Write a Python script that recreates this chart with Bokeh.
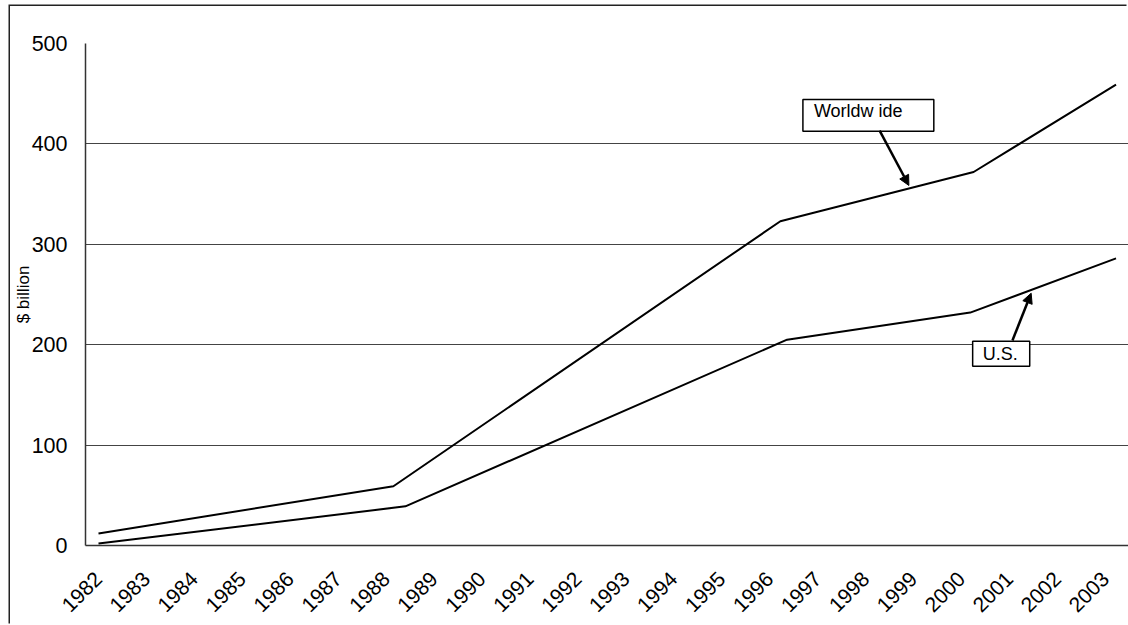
import math
from bokeh.plotting import figure
from bokeh.models import Range1d, FixedTicker, Arrow, NormalHead
from bokeh.core.properties import value
from bokeh.embed import file_html
from bokeh.resources import INLINE

# ---- data ----
years = [str(y) for y in range(1982, 2004)]
tick_vals = list(range(1982, 2004))

ww_x = [1982.0, 1988.15, 1996.22, 2000.25, 2003.22]
ww_y = [12, 59, 323, 372, 459]
us_x = [1982.0, 1988.40, 1996.36, 2000.18, 2003.22]
us_y = [2, 39, 205, 232, 286]

y_ticks = [0, 100, 200, 300, 400, 500]

ww_label = "Worldw ide"
us_label = "U.S."

FONT = "Liberation Sans"

p = figure(width=1118, height=619, output_backend="svg", toolbar_location=None,
           x_range=Range1d(1981.729, 2003.48), y_range=Range1d(0, 500),
           min_border_left=75, min_border_right=0, min_border_top=37, min_border_bottom=80)
p.outline_line_color = None
p.background_fill_color = "white"
p.border_fill_color = "white"
# outer chart frame: only its left and top edges are inside the picture
p.styles = {"transform": "translate(10px, 6px)",
            "box-shadow": "-1.5px -1.5px 0px 0px #222222"}

# axes
p.xaxis.ticker = FixedTicker(ticks=tick_vals)
p.xaxis.major_label_overrides = {v: s for v, s in zip(tick_vals, years)}
p.xaxis.major_label_orientation = math.pi / 4
p.xaxis.major_tick_out = 0
p.xaxis.major_tick_in = 0
p.xaxis.minor_tick_out = 0
p.xaxis.minor_tick_in = 0
p.xaxis.axis_line_color = "#333333"
p.xaxis.axis_line_width = 1.5
p.xaxis.major_label_text_font = FONT
p.xaxis.major_label_text_font_size = "21px"
p.xaxis.major_label_text_color = "black"
p.xaxis.major_label_standoff = 30

p.yaxis.ticker = FixedTicker(ticks=y_ticks)
p.yaxis.major_tick_out = 0
p.yaxis.major_tick_in = 0
p.yaxis.minor_tick_out = 0
p.yaxis.minor_tick_in = 0
p.yaxis.axis_line_color = "#333333"
p.yaxis.axis_line_width = 1.5
p.yaxis.major_label_text_font = FONT
p.yaxis.major_label_text_font_size = "21.5px"
p.yaxis.major_label_text_color = "black"
p.yaxis.major_label_standoff = 18
p.yaxis.axis_label = "$ billion"
p.yaxis.axis_label_text_font = FONT
p.yaxis.axis_label_text_font_size = "17px"
p.yaxis.axis_label_text_font_style = "normal"
p.yaxis.axis_label_text_color = "black"
p.yaxis.axis_label_standoff = -4

p.xgrid.grid_line_color = None
p.ygrid.ticker = FixedTicker(ticks=y_ticks)
p.ygrid.grid_line_color = "#444444"
p.ygrid.grid_line_width = 1

# lines
p.line(ww_x, ww_y, line_color="black", line_width=2)
p.line(us_x, us_y, line_color="black", line_width=2)

# callout boxes
p.quad(left=[1996.69], right=[1999.42], bottom=[412.7], top=[444.2],
       fill_color="white", line_color="black", line_width=1.5)
p.text(x=[1996.92], y=[432.6], text=[ww_label], text_font=value(FONT),
       text_font_size="18px", text_color="black", text_baseline="alphabetic", text_align="left")
p.add_layout(Arrow(x_start=1998.29, y_start=413.3, x_end=1998.90, y_end=358.6,
                   line_color="black", line_width=2.5,
                   end=NormalHead(size=10, fill_color="black", line_color="black")))

p.quad(left=[2000.23], right=[2001.42], bottom=[178.6], top=[203.5],
       fill_color="white", line_color="black", line_width=1.5)
p.text(x=[2000.44], y=[190.3], text=[us_label], text_font=value(FONT),
       text_font_size="18px", text_color="black", text_baseline="alphabetic", text_align="left")
p.add_layout(Arrow(x_start=2001.06, y_start=204.2, x_end=2001.45, y_end=251.3,
                   line_color="black", line_width=2.5,
                   end=NormalHead(size=10, fill_color="black", line_color="black")))

open("out.html", "w").write(file_html(p, INLINE))
